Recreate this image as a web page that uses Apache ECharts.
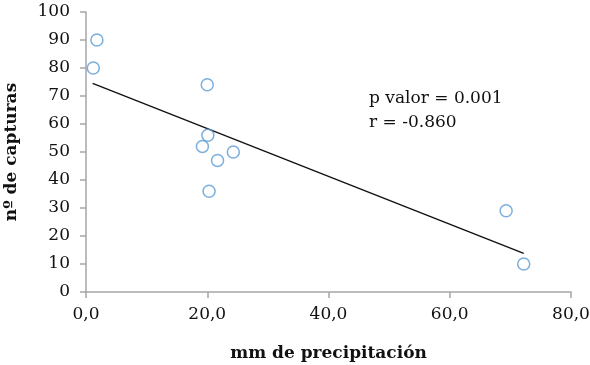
<!DOCTYPE html>
<html>
<head>
<meta charset="utf-8">
<script src="https://cdn.jsdelivr.net/npm/echarts@6/dist/echarts.min.js"></script>
<style>
  html, body { margin: 0; padding: 0; background: #fff; }
  #chart { width: 590px; height: 365px; }
</style>
</head>
<body>
<div id="chart"></div>
<script>
// captures vs precipitation
const precip = [1.8, 1.2, 20.0, 20.1, 19.2, 21.7, 24.3, 20.3, 69.3, 72.2];
const captures = [90, 80, 74, 56, 52, 47, 50, 36, 29, 10];
// trend line end points
const trendX = [1.1, 72.2];
const trendY = [74.5, 13.8];
const statsText = ['p valor = 0.001', 'r = -0.860'];

const axisGrey = '#a6a6a6';
const serif = 'DejaVu Serif';
const ink = '#111';

const chart = echarts.init(document.getElementById('chart'));

const option = {
    animation: false,
    backgroundColor: '#fff',
    grid: { left: 86, right: 19, top: 12, bottom: 73, outerBoundsMode: 'none', containLabel: false },
    xAxis: {
        type: 'value',
        min: 0,
        max: 80,
        interval: 20,
        name: 'mm de precipitación',
        nameLocation: 'middle',
        nameGap: 53,
        nameTextStyle: { fontFamily: serif, fontWeight: 'bold', fontSize: 17, color: ink },
        axisLine: { lineStyle: { color: axisGrey, width: 1.5 } },
        axisTick: { show: true, length: 6, lineStyle: { color: axisGrey, width: 1.5 } },
        splitLine: { show: false },
        axisLabel: {
            margin: 14,
            fontFamily: serif, fontSize: 17, color: ink,
            formatter: v => v.toFixed(1).replace('.', ',')
        }
    },
    yAxis: {
        type: 'value',
        min: 0,
        max: 100,
        interval: 10,
        name: 'nº de capturas',
        nameLocation: 'middle',
        nameGap: 66,
        nameTextStyle: { fontFamily: serif, fontWeight: 'bold', fontSize: 17, color: ink },
        axisLine: { show: true, lineStyle: { color: axisGrey, width: 1.5 } },
        axisTick: { show: true, length: 6, lineStyle: { color: axisGrey, width: 1.5 } },
        splitLine: { show: false },
        axisLabel: { margin: 16, fontFamily: serif, fontSize: 17, color: ink }
    },
    series: [
        {
            type: 'line',
            data: trendX.map((x, i) => [x, trendY[i]]),
            symbol: 'none',
            lineStyle: { color: '#111', width: 1.4 },
            z: 1
        },
        {
            type: 'scatter',
            data: precip.map((x, i) => [x, captures[i]]),
            symbol: 'circle',
            symbolSize: 12,
            itemStyle: { color: 'rgba(255,255,255,0)', borderColor: '#5b9bd5', borderWidth: 1.5 },
            z: 2
        }
    ],
    graphic: [
        {
            type: 'text',
            left: 369,
            top: 87,
            style: {
                text: statsText.join('\n'),
                font: '17px "DejaVu Serif"',
                lineHeight: 24,
                fill: ink
            }
        }
    ]
};

chart.setOption(option);
</script>
</body>
</html>
